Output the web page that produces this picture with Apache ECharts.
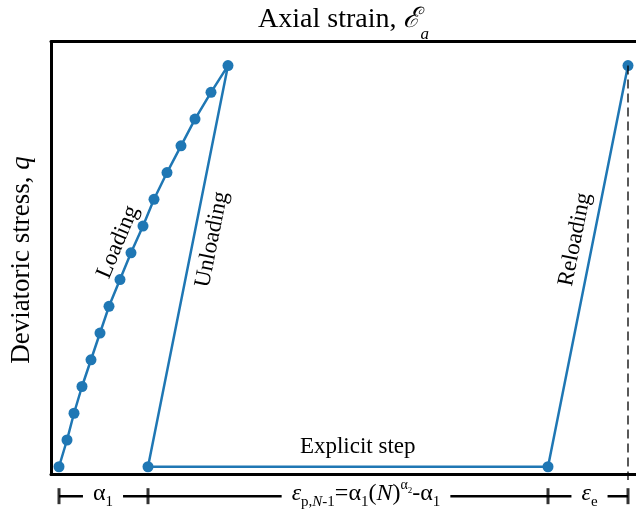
<!DOCTYPE html>
<html>
<head>
<meta charset="utf-8">
<script src="https://cdn.jsdelivr.net/npm/echarts@6/dist/echarts.min.js"></script>
<style>
html, body { margin: 0; padding: 0; background: #fff; }
#main { width: 636px; height: 515px; }
</style>
</head>
<body>
<div id="main"></div>
<script>
var serif = "'Times New Roman', 'Liberation Serif', serif";
var blue = '#1f77b4';

// loading branch (strain, stress) - arbitrary units
var loadStrain = [0, 0.8, 1.5, 2.3, 3.2, 4.1, 5.0, 6.1, 7.2, 8.4, 9.5, 10.8, 12.2, 13.6, 15.2, 16.9];
var loadStress = [0, 1, 2, 3, 4, 5, 6, 7, 8, 9, 10, 11, 12, 13, 14, 15];

// unloading -> explicit step -> reloading
var cycleStrain = [8.9, 48.9, 56.9];
var cycleStress = [0, 0, 15];

// elastic strain guide + bracket under the axis
var guideStrain = 56.9;
var guideStress = [15, -0.5];
var bracketTicks = [0, 8.9, 48.9, 56.9];
var bracketStress = -1.1;

var pathData = [];
for (var i = 0; i < loadStrain.length; i++) pathData.push([loadStrain[i], loadStress[i]]);
for (var j = 0; j < cycleStrain.length; j++) pathData.push([cycleStrain[j], cycleStress[j]]);

var chart = echarts.init(document.getElementById('main'));

var axisLine = { show: true, onZero: false, lineStyle: { color: '#000', width: 3 } };

var option = {
    animation: false,
    grid: { left: 51, top: 41.5, right: 0, bottom: 40.5 },
    xAxis: [{
        type: 'value', min: -0.8, max: 57.7,
        axisLine: axisLine, axisTick: { show: false }, axisLabel: { show: false }, splitLine: { show: false }
    }, {
        type: 'value', position: 'top', min: -0.8, max: 57.7,
        axisLine: axisLine, axisTick: { show: false }, axisLabel: { show: false }, splitLine: { show: false }
    }],
    yAxis: {
        type: 'value', min: -0.29, max: 15.9,
        axisLine: axisLine, axisTick: { show: false }, axisLabel: { show: false }, splitLine: { show: false }
    },
    series: [{
        type: 'line',
        data: pathData,
        symbol: 'circle',
        symbolSize: 11,
        showAllSymbol: true,
        itemStyle: { color: blue },
        lineStyle: { color: blue, width: 2.5 },
        z: 3
    }, {
        type: 'line',
        data: [[guideStrain, guideStress[0]], [guideStrain, guideStress[1]]],
        symbol: 'none',
        clip: false,
        lineStyle: { color: '#000', width: 1.3, type: [9, 5] },
        z: 4
    }, {
        type: 'line',
        data: [[bracketTicks[0], bracketStress], [bracketTicks[bracketTicks.length - 1], bracketStress]],
        symbol: 'none',
        clip: false,
        lineStyle: { color: '#000', width: 2.5 },
        z: 3
    }, {
        type: 'scatter',
        data: bracketTicks.map(function (t) { return [t, bracketStress]; }),
        symbol: 'rect',
        symbolSize: [3, 16],
        clip: false,
        itemStyle: { color: '#000' },
        z: 3
    }]
};
chart.setOption(option);

function px(x, y) { return chart.convertToPixel({ seriesIndex: 0 }, [x, y]); }
function angle(a, b) {
    var p1 = px(a[0], a[1]), p2 = px(b[0], b[1]);
    return Math.atan2(-(p2[1] - p1[1]), p2[0] - p1[0]);
}

function label(x, y, text, rich, rot, extra) {
    var p = px(x, y);
    var st = { text: text, rich: rich, x: 0, y: 0, align: 'center', verticalAlign: 'middle', fill: '#000' };
    if (extra) for (var k in extra) st[k] = extra[k];
    return { type: 'text', x: p[0], y: p[1], rotation: rot || 0, z: 100, style: st };
}

var f23 = { n: { fontSize: 23, fontFamily: serif, lineHeight: 28 } };
var bracketRich = {
    m: { fontSize: 24, fontFamily: serif, lineHeight: 32 },
    e: { fontSize: 24, fontFamily: serif, fontStyle: 'italic', lineHeight: 32 },
    mi: { fontSize: 24, fontFamily: serif, fontStyle: 'italic', lineHeight: 32 },
    s: { fontSize: 15, fontFamily: serif, lineHeight: 15, verticalAlign: 'bottom' },
    si: { fontSize: 15, fontFamily: serif, fontStyle: 'italic', lineHeight: 15, verticalAlign: 'bottom' },
    sup: { fontSize: 14, fontFamily: serif, lineHeight: 14, verticalAlign: 'top' },
    sup2: { fontSize: 9, fontFamily: serif, verticalAlign: 'middle', padding: [0, 0, 6, 0] }
};
var whiteBg = { backgroundColor: '#fff', padding: [0, 10] };

var p0 = [loadStrain[6], loadStress[6]], p1 = [loadStrain[10], loadStress[10]];
var topPt = [loadStrain[15], loadStress[15]];

var titleP = [(51 + 636) / 2, 20];

chart.setOption({
    graphic: [
        {
            type: 'text', x: titleP[0], y: titleP[1], z: 100,
            style: {
                text: '{n|Axial strain, }{e|ℰ}{s|a}', x: 0, y: 0, align: 'center', verticalAlign: 'middle', fill: '#000',
                rich: {
                    n: { fontSize: 28, fontFamily: serif, lineHeight: 46 },
                    e: { fontSize: 28, fontFamily: serif, fontStyle: 'italic', lineHeight: 46 },
                    s: { fontSize: 17, fontFamily: serif, fontStyle: 'italic', lineHeight: 17, verticalAlign: 'bottom' }
                }
            }
        },
        {
            type: 'text', x: 22, y: 260, rotation: Math.PI / 2, z: 100,
            style: {
                text: '{n|Deviatoric stress, }{i|q}', x: 0, y: 0, align: 'center', verticalAlign: 'middle', fill: '#000',
                rich: {
                    n: { fontSize: 27, fontFamily: serif },
                    i: { fontSize: 27, fontFamily: serif, fontStyle: 'italic' }
                }
            }
        },
        label(5.9, 8.4, '{n|Loading}', f23, angle(p0, p1)),
        label(15.3, 8.5, '{n|Unloading}', f23, angle([cycleStrain[0], cycleStress[0]], topPt)),
        label(51.6, 8.5, '{n|Reloading}', f23, angle([cycleStrain[1], cycleStress[1]], [cycleStrain[2], cycleStress[2]])),
        label(29.87, 0.755, '{n|Explicit step}', f23, 0),
        label(4.4, bracketStress + 0.08, '{m|α}{s|1}', bracketRich, 0, whiteBg),
        label(30.7, bracketStress + 0.08, '{e|ε}{s|p,}{si|N}{s|-1}{m|=α}{s|1}{m|(}{mi|N}{m|)}{sup|α}{sup2|2}{m|-α}{s|1}', bracketRich, 0, whiteBg),
        label(53.05, bracketStress + 0.08, '{e|ε}{s|e}', bracketRich, 0, whiteBg)
    ]
});
</script>
</body>
</html>
